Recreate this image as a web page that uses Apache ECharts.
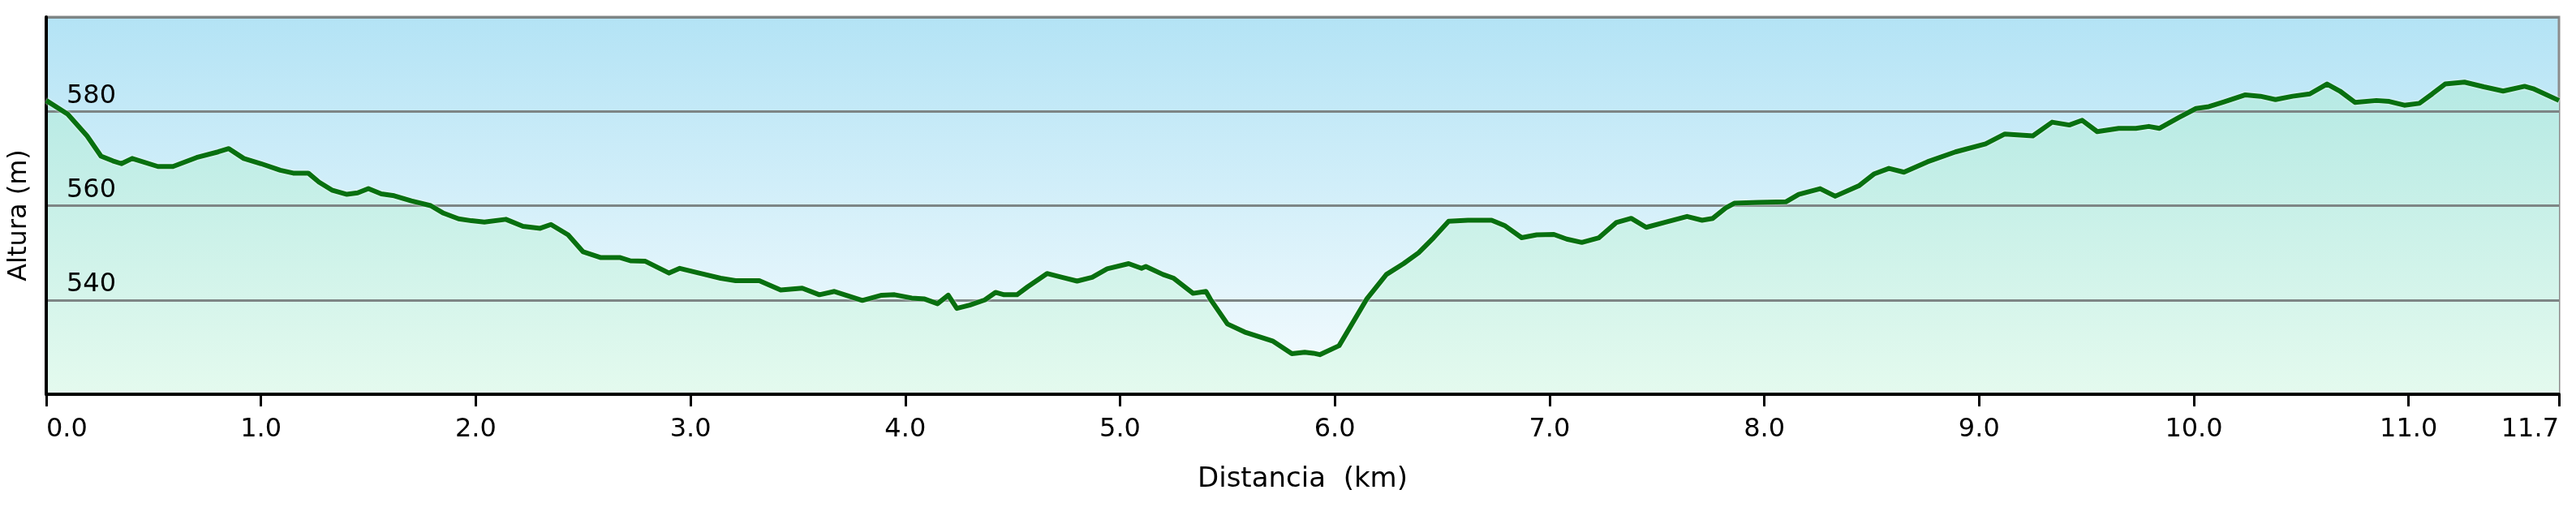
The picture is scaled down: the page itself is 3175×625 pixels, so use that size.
<!DOCTYPE html>
<html><head><meta charset="utf-8">
<script src="https://cdn.jsdelivr.net/npm/echarts@6/dist/echarts.min.js"></script>
<style>html,body{margin:0;padding:0;background:#fff}#c{width:3175px;height:625px}</style>
</head><body><div id="c"></div>
<script>
// Distance along the route (km)
const distances = [
  0.00, 0.10, 0.19, 0.255, 0.31, 0.35, 0.40, 0.52, 0.59, 0.70, 0.80, 0.85, 0.92,
  1.00, 1.09, 1.15, 1.22, 1.27, 1.33, 1.40, 1.45, 1.50, 1.56, 1.62, 1.70, 1.79, 1.85, 1.92, 1.98,
  2.04, 2.14, 2.22, 2.30, 2.35, 2.43, 2.50, 2.58, 2.67, 2.72, 2.79, 2.86, 2.90, 2.95,
  3.04, 3.14, 3.21, 3.32, 3.42, 3.52, 3.60, 3.67, 3.80, 3.89, 3.95,
  4.03, 4.09, 4.15, 4.20, 4.24, 4.30, 4.37, 4.42, 4.46, 4.52, 4.57, 4.66, 4.73, 4.80, 4.87, 4.94,
  5.04, 5.10, 5.12, 5.20, 5.25, 5.34, 5.40, 5.42, 5.50, 5.58, 5.71, 5.80, 5.86, 5.90, 5.93,
  6.02, 6.15, 6.24, 6.32, 6.39, 6.46, 6.53, 6.62, 6.73, 6.79, 6.87, 6.94,
  7.02, 7.08, 7.15, 7.23, 7.31, 7.38, 7.45, 7.54, 7.64, 7.71, 7.76, 7.82, 7.86, 7.97,
  8.10, 8.16, 8.26, 8.33, 8.44, 8.51, 8.58, 8.65, 8.76, 8.89,
  9.03, 9.12, 9.25, 9.34, 9.42, 9.48, 9.55, 9.65, 9.73, 9.79, 9.84, 9.93,
  10.01, 10.07, 10.14, 10.24, 10.31, 10.38, 10.46, 10.54, 10.62, 10.68, 10.75, 10.85, 10.91, 10.98,
  11.05, 11.11, 11.17, 11.26, 11.35, 11.44, 11.54, 11.58, 11.70
];
// Elevation (m)
const elevations = [
  582.3, 579.4, 574.8, 570.5, 569.5, 568.9, 570.0, 568.3, 568.3, 570.2, 571.4, 572.1, 570.0,
  568.9, 567.5, 566.9, 566.9, 565.0, 563.3, 562.4, 562.7, 563.6, 562.5, 562.1, 561.0, 560.0, 558.4, 557.2, 556.8,
  556.5, 557.1, 555.6, 555.2, 556.0, 553.8, 550.2, 549.0, 549.0, 548.3, 548.2, 546.6, 545.7, 546.7,
  545.7, 544.6, 544.1, 544.1, 542.1, 542.5, 541.1, 541.8, 539.9, 541.0, 541.1,
  540.4, 540.2, 539.2, 541.0, 538.2, 538.9, 540.0, 541.6, 541.1, 541.1, 542.8, 545.6, 544.8, 544.0, 544.8, 546.6,
  547.7, 546.7, 547.1, 545.4, 544.6, 541.4, 541.8, 540.2, 534.9, 533.2, 531.3, 528.6, 528.9, 528.7, 528.4,
  530.3, 540.3, 545.4, 547.7, 550.0, 553.2, 556.7, 556.9, 556.9, 555.8, 553.2, 553.8,
  553.9, 552.9, 552.2, 553.2, 556.4, 557.3, 555.4, 556.5, 557.7, 556.9, 557.3, 559.5, 560.5, 560.7,
  560.8, 562.4, 563.6, 562.0, 564.2, 566.7, 567.9, 567.1, 569.3, 571.4,
  573.1, 575.2, 574.8, 577.7, 577.1, 578.1, 575.7, 576.4, 576.4, 576.8, 576.4, 578.7,
  580.6, 581.0, 582.0, 583.5, 583.2, 582.5, 583.2, 583.7, 585.8, 584.3, 581.9, 582.3, 582.1, 581.3,
  581.7, 583.7, 585.8, 586.2, 585.2, 584.3, 585.3, 584.8, 582.3
];
const yLabels = [540, 560, 580];
const xTitle = 'Distancia  (km)';
const yTitle = 'Altura (m)';

const FONT = 'DejaVu Sans';
const chart = echarts.init(document.getElementById('c'), null, {renderer: 'canvas'});
const pts = distances.map((d, i) => [d, elevations[i]]);
const GRID_TOP = 21, GRID_BOTTOM_PX = 486;

chart.setOption({
  animation: false,
  backgroundColor: '#ffffff',
  grid: {
    left: 55, right: 21, top: GRID_TOP, bottom: 625 - GRID_BOTTOM_PX,
    show: true, z: 0,
    borderColor: '#8c8c8c', borderWidth: 3,
    backgroundColor: new echarts.graphic.LinearGradient(0, 0, 0, 1, [
      {offset: 0, color: '#b3e3f5'},
      {offset: 1, color: '#f6fcfe'}
    ])
  },
  xAxis: {
    type: 'value', min: 0, max: 11.7, interval: 1, z: 6,
    name: xTitle, nameLocation: 'middle', nameGap: 88,
    nameTextStyle: {fontFamily: FONT, fontSize: 34, color: '#000'},
    axisLine: {show: true, onZero: false, lineStyle: {color: '#000', width: 4}},
    axisTick: {show: true, length: 15, lineStyle: {color: '#000', width: 3}},
    axisLabel: {
      fontFamily: FONT, fontSize: 32, color: '#000', margin: 28,
      alignMinLabel: 'left', alignMaxLabel: 'right',
      formatter: v => v.toFixed(1)
    },
    splitLine: {show: false}
  },
  yAxis: {
    type: 'value', min: 520, max: 600, interval: 20, z: 5,
    name: yTitle, nameLocation: 'middle', nameGap: 17, nameRotate: 90,
    nameTextStyle: {fontFamily: FONT, fontSize: 32, color: '#000', padding: [0, 24, 0, 0]},
    axisLine: {show: true, onZero: false, lineStyle: {color: '#000', width: 4}},
    axisTick: {show: false},
    axisLabel: {
      inside: true, showMinLabel: false, showMaxLabel: false,
      fontFamily: FONT, fontSize: 32, color: '#000',
      align: 'left', verticalAlign: 'bottom', margin: 25, padding: [0, 0, 3, 0],
      formatter: v => (yLabels.indexOf(v) >= 0 ? String(v) : '')
    },
    splitLine: {show: true, lineStyle: {color: '#7d8585', width: 3}}
  },
  series: [{
    // filled area under the profile
    type: 'line',
    data: pts,
    showSymbol: false,
    z: 2,
    lineStyle: {width: 0, opacity: 0},
    areaStyle: {
      origin: 'start',
      opacity: 1,
      color: {
        type: 'linear', x: 0, y: GRID_TOP, x2: 0, y2: GRID_BOTTOM_PX, global: true,
        colorStops: [
          {offset: 0, color: '#ace6e2'},
          {offset: 1, color: '#e4faee'}
        ]
      }
    }
  }, {
    // profile line on top of grid lines
    type: 'line',
    data: pts,
    showSymbol: false,
    z: 10,
    lineStyle: {color: '#087010', width: 6, join: 'round', shadowColor: 'rgba(255,255,255,0.9)', shadowBlur: 3}
  }]
});
</script>
</body></html>
